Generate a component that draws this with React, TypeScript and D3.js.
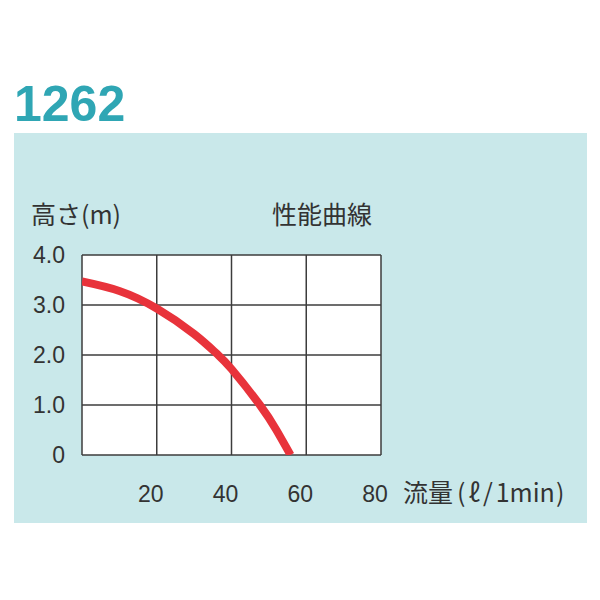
import { useRef, useEffect } from 'react'
import * as d3 from 'd3'

// Pump performance curve
const flowValues = [0, 10, 20, 30, 36, 40, 47.6, 52, 55.8]
const headValues = [3.47, 3.28, 2.93, 2.42, 2.03, 1.72, 1.0, 0.5, 0]

const xTicks = [20, 40, 60, 80]
const yTicks = [0, 1, 2, 3, 4]
const yTickLabels = ['0', '1.0', '2.0', '3.0', '4.0']

const modelName = '1262'
const yAxisTitle = '高さ(m)'
const chartTitle = '性能曲線'
const xAxisTitleParts = ['流量', '(', 'ℓ', '/', '1min', ')']

const JP_FONT = '"Noto Sans CJK JP", "Noto Sans", sans-serif'
const NUM_FONT = '"Liberation Sans", Arial, sans-serif'

export default function App() {
  const svgRef = useRef<SVGSVGElement>(null)

  useEffect(() => {
    if (!svgRef.current) return
    const svg = d3.select(svgRef.current)
    svg.selectAll('*').remove()

    const width = 600
    const height = 600
    svg.attr('width', width).attr('height', height).attr('viewBox', `0 0 ${width} ${height}`)

    svg.append('rect').attr('width', width).attr('height', height).attr('fill', '#ffffff')

    // title
    svg.append('text')
      .attr('x', 14).attr('y', 121)
      .style('font-family', NUM_FONT)
      .style('font-weight', 'bold')
      .style('font-size', '50px')
      .style('fill', '#2fa6b4')
      .text(modelName)

    // panel
    svg.append('rect')
      .attr('x', 14).attr('y', 133)
      .attr('width', 573).attr('height', 390)
      .attr('fill', '#c9e8ea')

    const plot = { left: 82, right: 381, top: 255, bottom: 455 }

    const x = d3.scaleLinear().domain([0, 80]).range([plot.left, plot.right])
    const y = d3.scaleLinear().domain([0, 4]).range([plot.bottom, plot.top])

    svg.append('rect')
      .attr('x', plot.left).attr('y', plot.top)
      .attr('width', plot.right - plot.left).attr('height', plot.bottom - plot.top)
      .attr('fill', '#ffffff')

    // clip for the curve
    svg.append('defs').append('clipPath').attr('id', 'plot-clip')
      .append('rect')
      .attr('x', plot.left).attr('y', plot.top)
      .attr('width', plot.right - plot.left).attr('height', plot.bottom - plot.top)

    // grid
    const grid = svg.append('g').attr('stroke', '#3c3c3c').attr('stroke-width', 1.5)
    grid.selectAll('line.v')
      .data([0, ...xTicks])
      .join('line')
      .attr('class', 'v')
      .attr('x1', d => x(d)).attr('x2', d => x(d))
      .attr('y1', plot.top).attr('y2', plot.bottom)
    grid.selectAll('line.h')
      .data(yTicks)
      .join('line')
      .attr('class', 'h')
      .attr('x1', plot.left).attr('x2', plot.right)
      .attr('y1', d => y(d)).attr('y2', d => y(d))

    // curve
    const points = flowValues.map((f, i) => [f, headValues[i]] as [number, number])
    const line = d3.line<[number, number]>()
      .x(d => x(d[0]))
      .y(d => y(d[1]))
      .curve(d3.curveNatural)

    svg.append('path')
      .datum(points)
      .attr('clip-path', 'url(#plot-clip)')
      .attr('d', line)
      .attr('fill', 'none')
      .attr('stroke', '#e8333b')
      .attr('stroke-width', 8)

    // y tick labels
    svg.selectAll('.ytick')
      .data(yTicks)
      .join('text')
      .attr('class', 'ytick')
      .attr('x', 65)
      .attr('y', d => y(d) + 8)
      .attr('text-anchor', 'end')
      .style('font-family', NUM_FONT)
      .style('font-size', '23px')
      .style('fill', '#333')
      .text((d, i) => yTickLabels[i])

    // x tick labels
    svg.selectAll('.xtick')
      .data(xTicks)
      .join('text')
      .attr('class', 'xtick')
      .attr('x', d => x(d) - 6)
      .attr('y', 502)
      .attr('text-anchor', 'middle')
      .style('font-family', NUM_FONT)
      .style('font-size', '23px')
      .style('fill', '#333')
      .text(d => d)

    // titles
    svg.append('text')
      .attr('x', 31).attr('y', 224)
      .style('font-family', JP_FONT)
      .style('font-size', '25px')
      .style('fill', '#333')
      .text(yAxisTitle)

    svg.append('text')
      .attr('x', 272).attr('y', 224)
      .style('font-family', JP_FONT)
      .style('font-size', '25px')
      .style('fill', '#333')
      .text(chartTitle)

    const xTitle = svg.append('text')
      .attr('x', 403).attr('y', 502)
      .style('font-family', JP_FONT)
      .style('font-size', '25px')
      .style('fill', '#333')
    const gaps = [0, 4, 3, 3, 3, 1]
    xAxisTitleParts.forEach((p, i) => {
      xTitle.append('tspan').attr('dx', gaps[i]).text(p)
    })
  }, [])

  return <svg ref={svgRef} style={{ position: 'absolute', left: 0, top: 0 }} />
}
